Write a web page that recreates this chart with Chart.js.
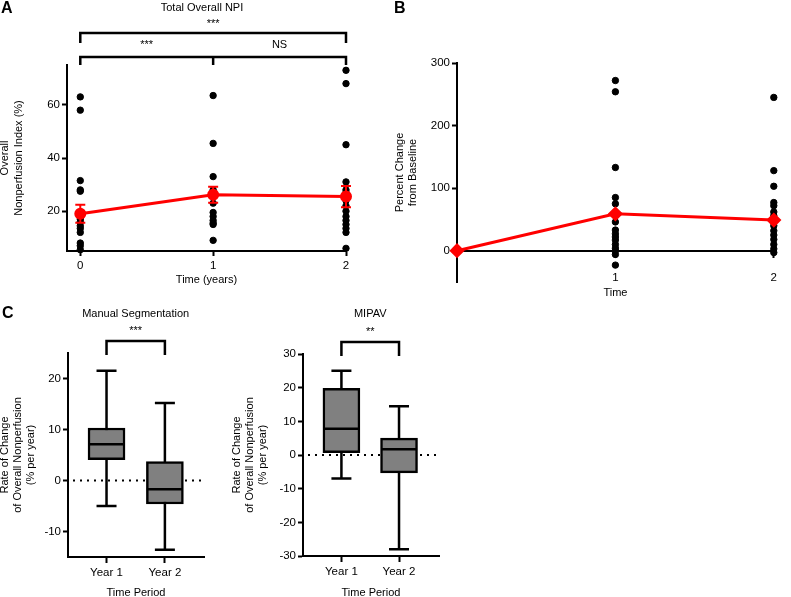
<!DOCTYPE html>
<html>
<head>
<meta charset="utf-8">
<script src="https://cdn.jsdelivr.net/npm/chart.js@4.4.0/dist/chart.umd.min.js"></script>
<style>
  body { margin: 0; background: #fff; width: 791px; height: 597px; position: relative; overflow: hidden; font-family: "Liberation Sans", Arial, sans-serif; }
  canvas { position: absolute; }
  .panel { position: absolute; font-weight: bold; font-size: 16px; line-height: 16px; }
</style>
</head>
<body>
<canvas id="chartA" width="395" height="300" style="left:0;top:0"></canvas>
<canvas id="chartB" width="398" height="300" style="left:393px;top:0"></canvas>
<canvas id="chartC1" width="228" height="297" style="left:0;top:300px"></canvas>
<canvas id="chartC2" width="228" height="297" style="left:232px;top:300px"></canvas>
<div class="panel" style="left:1px;top:0px">A</div>
<div class="panel" style="left:394px;top:0px">B</div>
<div class="panel" style="left:2px;top:305px">C</div>
<script>
// panel A: overall nonperfusion index by year
const years = [0, 1, 2];
const npiYear0 = [63, 58, 31.5, 28, 27.5, 19, 17, 16, 14.5, 13.5, 12, 8, 7, 5.5];
const npiYear1 = [63.5, 45.5, 33, 28, 26, 23, 19.5, 18, 16.5, 15.5, 15, 9];
const npiYear2 = [73, 68, 45, 31, 28, 27, 26, 24, 22, 20, 18, 16.5, 15, 13.5, 12, 6];
const npiMean = [19.0, 26.2, 25.5];
const npiSem = [3.4, 3.0, 4.0];
const npiTicks = [20, 40, 60];

// panel B: percent change from baseline
const changeYear1 = [272, 254, 133, 85, 75, 60, 46, 33, 27, 22, 17, 10, 4, 0, -6, -23];
const changeYear2 = [245, 128, 103, 77, 72, 62, 56, 48, 40, 32, 25, 18, 10, 3, -3];
const changeMean = [0, 59, 49];
const changeTicks = [0, 100, 200, 300];
const timeTicksB = [1, 2];

// panel C: rate of change box plots
const periods = ['Year 1', 'Year 2'];
const manualMin = [-5.0, -13.6];
const manualQ1 = [4.1, -4.6];
const manualMedian = [7.1, -1.7];
const manualQ3 = [10.3, 3.7];
const manualMax = [21.5, 15.2];
const manualTicks = [-10, 0, 10, 20];

const mipavMin = [-7, -28];
const mipavQ1 = [0.7, -5.3];
const mipavMedian = [7.8, 1.7];
const mipavQ3 = [19.8, 5.0];
const mipavMax = [25, 14.5];
const mipavTicks = [-30, -20, -10, 0, 10, 20, 30];

const RED = '#ff0000';
Chart.defaults.font.family = '"Liberation Sans", Arial, sans-serif';
Chart.defaults.font.size = 11;
Chart.defaults.color = '#000';

function setTicks(list) {
  return s => { s.ticks = list.map(v => ({ value: v })); };
}

const tickGrid = (len) => ({ display: true, offset: false, drawOnChartArea: false, drawTicks: true, tickLength: len, tickWidth: 2, tickColor: '#000', color: '#000' });

function axis(opts) {
  return Object.assign({
    type: 'linear',
    border: { display: true, color: '#000', width: 2 },
    grid: tickGrid(5),
    ticks: { color: '#000', font: { size: 11.5 }, padding: 2 }
  }, opts);
}

function drawBracket(ctx, xs, yLine, yLeg) {
  ctx.beginPath();
  ctx.moveTo(xs[0], yLeg);
  ctx.lineTo(xs[0], yLine);
  ctx.lineTo(xs[xs.length - 1], yLine);
  ctx.lineTo(xs[xs.length - 1], yLeg);
  for (let i = 1; i < xs.length - 1; i++) {
    ctx.moveTo(xs[i], yLine);
    ctx.lineTo(xs[i], yLeg);
  }
  ctx.stroke();
}

function dots(t, values) {
  return values.map(v => ({ x: t, y: v }));
}

// ---------- A ----------
const panelAExtras = {
  id: 'panelAExtras',
  afterDatasetsDraw(chart) {
    const { ctx, scales: { x, y } } = chart;
    ctx.save();
    ctx.strokeStyle = RED;
    ctx.lineWidth = 2;
    npiMean.forEach((m, i) => {
      const px = x.getPixelForValue(years[i]);
      const top = y.getPixelForValue(m + npiSem[i]);
      const bot = y.getPixelForValue(m - npiSem[i]);
      ctx.beginPath();
      ctx.moveTo(px, top); ctx.lineTo(px, bot);
      ctx.moveTo(px - 5, top); ctx.lineTo(px + 5, top);
      ctx.moveTo(px - 5, bot); ctx.lineTo(px + 5, bot);
      ctx.stroke();
    });
    ctx.restore();
  },
  afterDraw(chart) {
    const { ctx, scales: { x } } = chart;
    const xs = years.map(v => x.getPixelForValue(v));
    ctx.save();
    ctx.strokeStyle = '#000';
    ctx.fillStyle = '#000';
    ctx.lineWidth = 2.5;
    drawBracket(ctx, [xs[0], xs[2]], 33, 43);
    drawBracket(ctx, xs, 57, 65);
    ctx.font = '11px "Liberation Sans", Arial';
    ctx.textAlign = 'center';
    ctx.textBaseline = 'middle';
    ctx.fillText('Total Overall NPI', 202, 8);
    ctx.fillText('***', (xs[0] + xs[2]) / 2, 24);
    ctx.fillText('***', (xs[0] + xs[1]) / 2, 45);
    ctx.fillText('NS', (xs[1] + xs[2]) / 2, 45);
    ctx.restore();
  }
};

new Chart(document.getElementById('chartA'), {
  type: 'scatter',
  data: {
    datasets: [
      { data: years.map((t, i) => ({ x: t, y: npiMean[i] })), showLine: true, borderColor: RED, borderWidth: 3,
        pointRadius: 4.5, pointBackgroundColor: RED, pointBorderColor: RED, clip: false },
      { data: dots(0, npiYear0), pointRadius: 3.2, backgroundColor: '#000', borderColor: '#000', clip: false },
      { data: dots(1, npiYear1), pointRadius: 3.2, backgroundColor: '#000', borderColor: '#000', clip: false },
      { data: dots(2, npiYear2), pointRadius: 3.2, backgroundColor: '#000', borderColor: '#000', clip: false }
    ]
  },
  options: {
    responsive: false,
    animation: false,
    layout: { padding: { left: 0, top: 65, right: 49, bottom: 0 } },
    plugins: { legend: { display: false }, tooltip: { enabled: false } },
    scales: {
      x: axis({
        min: -0.1, max: 2,
        afterBuildTicks: setTicks(years),
        afterFit: s => { s.height = 49; },
        ticks: { color: '#000', font: { size: 11.5 }, padding: 3 },
        title: { display: true, text: 'Time (years)', font: { size: 11 }, padding: { top: 0, bottom: 13 } }
      }),
      y: axis({
        min: 5, max: 75,
        afterBuildTicks: setTicks(npiTicks),
        afterFit: s => { s.width = 67; },
        title: { display: true, text: ['Overall', 'Nonperfusion Index (%)'], font: { size: 11, lineHeight: 1.25 }, padding: { top: -2, bottom: 0 } }
      })
    }
  },
  plugins: [panelAExtras]
});

// ---------- B ----------
new Chart(document.getElementById('chartB'), {
  type: 'scatter',
  data: {
    datasets: [
      { data: years.map((t, i) => ({ x: t, y: changeMean[i] })), showLine: true, borderColor: RED, borderWidth: 3,
        pointStyle: 'rectRot', pointRadius: 5.5, pointBackgroundColor: RED, pointBorderColor: RED, clip: false },
      { data: dots(1, changeYear1), pointRadius: 3.2, backgroundColor: '#000', borderColor: '#000', clip: false },
      { data: dots(2, changeYear2), pointRadius: 3.2, backgroundColor: '#000', borderColor: '#000', clip: false }
    ]
  },
  options: {
    responsive: false,
    animation: false,
    layout: { padding: { left: 0, top: 63, right: 6, bottom: 18 } },
    plugins: { legend: { display: false }, tooltip: { enabled: false } },
    scales: {
      x: axis({
        min: 0, max: 2,
        position: { y: 0 },
        afterBuildTicks: setTicks(timeTicksB),
        afterFit: s => { s.height = 49; },
        grid: tickGrid(6),
        ticks: { color: '#000', font: { size: 11.5 }, padding: 14 },
        title: { display: true, text: 'Time', font: { size: 11 }, padding: { top: 0, bottom: 0 } }
      }),
      y: axis({
        min: -50, max: 300,
        afterBuildTicks: setTicks(changeTicks),
        afterFit: s => { s.width = 64; },
        title: { display: true, text: ['Percent Change', 'from Baseline'], font: { size: 11, lineHeight: 1.2 }, padding: { top: 0, bottom: 0 } }
      })
    }
  }
});

// ---------- C ----------
function boxChart(id, cfg) {
  const extras = {
    id: 'boxExtras',
    beforeDatasetsDraw(chart) {
      const { ctx, chartArea, scales: { x, y } } = chart;
      ctx.save();
      // dotted zero line
      ctx.strokeStyle = '#000';
      ctx.lineWidth = 2;
      ctx.setLineDash([2, 5]);
      ctx.beginPath();
      ctx.moveTo(chartArea.left + 5, y.getPixelForValue(0));
      ctx.lineTo(chartArea.right, y.getPixelForValue(0));
      ctx.stroke();
      ctx.setLineDash([]);
      // whiskers and caps
      ctx.lineWidth = 2.5;
      cfg.mins.forEach((mn, i) => {
        const px = x.getPixelForValue(i + 1);
        const yMin = y.getPixelForValue(mn);
        const yMax = y.getPixelForValue(cfg.maxs[i]);
        ctx.beginPath();
        ctx.moveTo(px, yMax); ctx.lineTo(px, yMin);
        ctx.moveTo(px - 10, yMax); ctx.lineTo(px + 10, yMax);
        ctx.moveTo(px - 10, yMin); ctx.lineTo(px + 10, yMin);
        ctx.stroke();
      });
      ctx.restore();
    },
    afterDatasetsDraw(chart) {
      const { ctx, scales: { x, y } } = chart;
      ctx.save();
      ctx.strokeStyle = '#000';
      ctx.lineWidth = 2.5;
      cfg.medians.forEach((md, i) => {
        const px = x.getPixelForValue(i + 1);
        const py = y.getPixelForValue(md);
        ctx.beginPath();
        ctx.moveTo(px - 18, py); ctx.lineTo(px + 18, py);
        ctx.stroke();
      });
      ctx.restore();
    },
    afterDraw(chart) {
      const { ctx, scales: { x } } = chart;
      const x1 = x.getPixelForValue(1), x2 = x.getPixelForValue(2);
      ctx.save();
      ctx.strokeStyle = '#000';
      ctx.fillStyle = '#000';
      ctx.lineWidth = 2.5;
      drawBracket(ctx, [x1, x2], cfg.bracketY, cfg.bracketY + 14);
      ctx.font = '11px "Liberation Sans", Arial';
      ctx.textAlign = 'center';
      ctx.textBaseline = 'middle';
      ctx.fillText(cfg.title, (x1 + x2) / 2, 14);
      ctx.fillText(cfg.stars, (x1 + x2) / 2, cfg.bracketY - 10);
      ctx.restore();
    }
  };

  return new Chart(document.getElementById(id), {
    type: 'bar',
    data: {
      datasets: [{
        data: periods.map((p, i) => ({ x: i + 1, y: [cfg.q1s[i], cfg.q3s[i]] })),
        backgroundColor: '#808080',
        borderColor: '#000',
        borderWidth: 2.5,
        borderSkipped: false,
        barThickness: 37
      }]
    },
    options: {
      responsive: false,
      animation: false,
      layout: { padding: cfg.padding },
      plugins: { legend: { display: false }, tooltip: { enabled: false } },
      scales: {
        x: axis({
          min: cfg.xMin, max: cfg.xMax, offset: false,
          afterBuildTicks: setTicks([1, 2]),
          afterFit: s => { s.height = cfg.xHeight; },
          grid: tickGrid(6),
          ticks: { color: '#000', font: { size: 11.5 }, padding: 3, callback: v => periods[v - 1] },
          title: { display: true, text: 'Time Period', font: { size: 11 }, padding: { top: 0, bottom: -3 } }
        }),
        y: axis({
          min: cfg.yMin, max: cfg.yMax,
          afterBuildTicks: setTicks(cfg.ticks),
          afterFit: s => { s.width = cfg.yWidth; },
          title: { display: true, text: ['Rate of Change', 'of Overall Nonperfusion', '(% per year)'], font: { size: 11, lineHeight: 1.2 }, padding: { top: -2, bottom: 0 } }
        })
      }
    },
    plugins: [extras]
  });
}

boxChart('chartC1', {
  title: 'Manual Segmentation', stars: '***', bracketY: 41,
  mins: manualMin, q1s: manualQ1, medians: manualMedian, q3s: manualQ3, maxs: manualMax,
  ticks: manualTicks, yMin: -15, yMax: 25, xMin: 0.34, xMax: 2.67,
  padding: { left: 0, top: 53, right: 24, bottom: 0 }, yWidth: 68, xHeight: 40
});

boxChart('chartC2', {
  title: 'MIPAV', stars: '**', bracketY: 42,
  mins: mipavMin, q1s: mipavQ1, medians: mipavMedian, q3s: mipavQ3, maxs: mipavMax,
  ticks: mipavTicks, yMin: -30, yMax: 30, xMin: 0.333, xMax: 2.694,
  padding: { left: 0, top: 54, right: 21, bottom: 0 }, yWidth: 71, xHeight: 41
});
</script>
</body>
</html>
